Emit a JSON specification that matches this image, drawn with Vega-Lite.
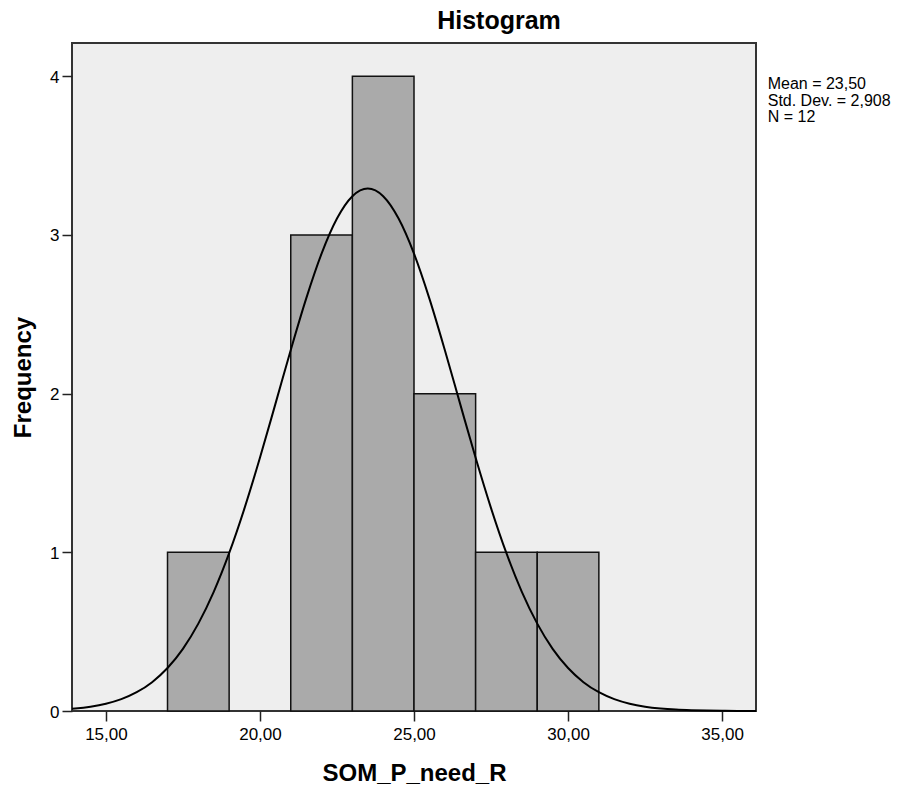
{
  "$schema": "https://vega.github.io/schema/vega-lite/v6.json",
  "width": 684,
  "height": 668,
  "autosize": {"type": "none"},
  "padding": {"left": 72, "top": 43, "right": 151, "bottom": 78},
  "background": "white",
  "config": {
    "font": "Liberation Sans",
    "view": {"fill": "#eeeeee", "stroke": "#333333", "strokeWidth": 2}
  },
  "title": {
    "text": "Histogram",
    "fontSize": 25,
    "fontWeight": "bold",
    "font": "Liberation Sans",
    "color": "black",
    "anchor": "middle",
    "dx": 85,
    "offset": 9
  },
  "datasets": {
    "bins": [
      {"start": 17, "end": 19, "count": 1},
      {"start": 21, "end": 23, "count": 3},
      {"start": 23, "end": 25, "count": 4},
      {"start": 25, "end": 27, "count": 2},
      {"start": 27, "end": 29, "count": 1},
      {"start": 29, "end": 31, "count": 1}
    ],
    "curve": [
      {"x": 13.9, "y": 0.0142},
      {"x": 14.0, "y": 0.0159},
      {"x": 14.5, "y": 0.0274},
      {"x": 15.0, "y": 0.0460},
      {"x": 15.5, "y": 0.0748},
      {"x": 16.0, "y": 0.1183},
      {"x": 16.5, "y": 0.1817},
      {"x": 17.0, "y": 0.2709},
      {"x": 17.5, "y": 0.3918},
      {"x": 18.0, "y": 0.5506},
      {"x": 18.5, "y": 0.7509},
      {"x": 19.0, "y": 0.9944},
      {"x": 19.5, "y": 1.2785},
      {"x": 20.0, "y": 1.5957},
      {"x": 20.5, "y": 1.9340},
      {"x": 21.0, "y": 2.2754},
      {"x": 21.5, "y": 2.5991},
      {"x": 22.0, "y": 2.8825},
      {"x": 22.5, "y": 3.1035},
      {"x": 23.0, "y": 3.2443},
      {"x": 23.5, "y": 3.2926},
      {"x": 24.0, "y": 3.2443},
      {"x": 24.5, "y": 3.1035},
      {"x": 25.0, "y": 2.8825},
      {"x": 25.5, "y": 2.5991},
      {"x": 26.0, "y": 2.2754},
      {"x": 26.5, "y": 1.9340},
      {"x": 27.0, "y": 1.5957},
      {"x": 27.5, "y": 1.2785},
      {"x": 28.0, "y": 0.9944},
      {"x": 28.5, "y": 0.7509},
      {"x": 29.0, "y": 0.5506},
      {"x": 29.5, "y": 0.3918},
      {"x": 30.0, "y": 0.2709},
      {"x": 30.5, "y": 0.1817},
      {"x": 31.0, "y": 0.1183},
      {"x": 31.5, "y": 0.0748},
      {"x": 32.0, "y": 0.0460},
      {"x": 32.5, "y": 0.0274},
      {"x": 33.0, "y": 0.0159},
      {"x": 33.5, "y": 0.0089},
      {"x": 34.0, "y": 0.0049},
      {"x": 34.5, "y": 0.0026},
      {"x": 35.0, "y": 0.0013},
      {"x": 35.5, "y": 0.0007},
      {"x": 36.0, "y": 0.0003},
      {"x": 36.1, "y": 0.0003}
    ],
    "stats": [
      {"label": ["Mean = 23,50", "Std. Dev. = 2,908", "N = 12"]}
    ]
  },
  "layer": [
    {
      "data": {"name": "bins"},
      "mark": {"type": "bar", "fill": "#aaaaaa", "stroke": "#111111", "strokeWidth": 1.5},
      "encoding": {
        "x": {
          "field": "start",
          "type": "quantitative",
          "scale": {"domain": [13.9, 36.1], "nice": false, "zero": false},
          "axis": {
            "values": [15, 20, 25, 30, 35],
            "labelExpr": "replace(format(datum.value, '.2f'), '.', ',')",
            "labelFontSize": 17,
            "labelColor": "black",
            "labelPadding": 5,
            "tickSize": 10,
            "tickColor": "#222222",
            "tickWidth": 1.5,
            "domain": false,
            "grid": false,
            "title": "SOM_P_need_R",
            "titleFontSize": 24,
            "titleFontWeight": "bold",
            "titleColor": "black",
            "titleBaseline": "alphabetic",
            "titleY": 69
          }
        },
        "x2": {"field": "end"},
        "y": {
          "field": "count",
          "type": "quantitative",
          "scale": {"domain": [0, 4.21], "nice": false},
          "axis": {
            "values": [0, 1, 2, 3, 4],
            "format": "d",
            "labelFontSize": 17,
            "labelColor": "black",
            "labelPadding": 3,
            "labelOffset": 1,
            "tickSize": 10,
            "tickColor": "#222222",
            "tickWidth": 1.5,
            "domain": false,
            "grid": false,
            "title": "Frequency",
            "titleFontSize": 24,
            "titleFontWeight": "bold",
            "titleColor": "black",
            "titleBaseline": "alphabetic",
            "titleX": -42,
            "titleY": 334
          }
        },
        "y2": {"datum": 0}
      }
    },
    {
      "data": {"name": "curve"},
      "mark": {"type": "line", "color": "black", "strokeWidth": 2, "interpolate": "monotone"},
      "encoding": {
        "x": {"field": "x", "type": "quantitative"},
        "y": {"field": "y", "type": "quantitative"}
      }
    },
    {
      "data": {"name": "stats"},
      "mark": {"type": "text", "align": "left", "baseline": "alphabetic", "fontSize": 16, "lineHeight": 16.5, "color": "black", "clip": false},
      "encoding": {
        "x": {"datum": 36.48, "type": "quantitative"},
        "y": {"datum": 3.92, "type": "quantitative"},
        "text": {"field": "label"}
      }
    }
  ]
}
